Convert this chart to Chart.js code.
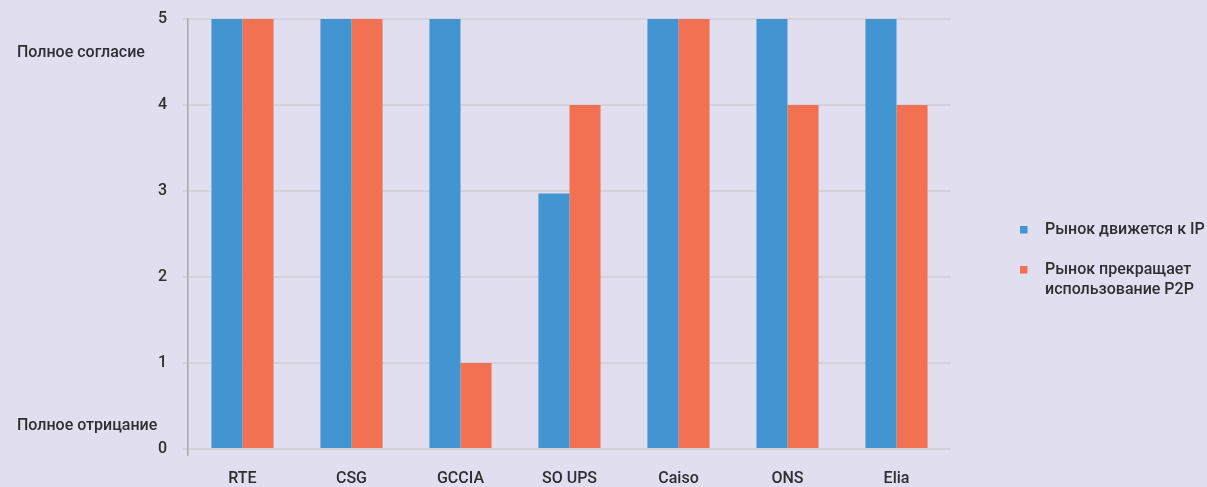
<!DOCTYPE html>
<html>
<head>
<meta charset="utf-8">
<script src="https://cdn.jsdelivr.net/npm/chart.js@4"></script>
<style>
  html, body { margin: 0; padding: 0; background: #e1dfef; }
  #wrap { width: 1207px; height: 487px; position: relative; }
</style>
</head>
<body>
<div id="wrap"><canvas id="chart" width="1207" height="487"></canvas></div>
<script>
const categories = ['RTE', 'CSG', 'GCCIA', 'SO UPS', 'Caiso', 'ONS', 'Elia'];
const marketToIp = [5, 5, 5, 2.97, 5, 5, 5];
const marketStopsP2p = [5, 5, 1, 4, 5, 4, 4];
const seriesLabels = [['Рынок движется к IP'], ['Рынок прекращает', 'использование P2P']];
const yTicks = [0, 1, 2, 3, 4, 5];
const sideNotes = [
  { text: 'Полное согласие', value: 4.6 },
  { text: 'Полное отрицание', value: 0.27 }
];

const BLUE = '#4395d1';
const ORANGE = '#f37153';
const TEXT = '#2e2e33';
const FONT = 'Roboto, "DejaVu Sans", sans-serif';

// side notes next to the y axis
const sideNotePlugin = {
  id: 'sideNotes',
  afterDraw(chart) {
    const { ctx } = chart;
    const y = chart.scales.y;
    ctx.save();
    ctx.font = '500 16px ' + FONT;
    ctx.fillStyle = TEXT;
    ctx.textAlign = 'left';
    ctx.textBaseline = 'middle';
    for (const note of sideNotes) {
      ctx.fillText(note.text, 17, y.getPixelForValue(note.value));
    }
    ctx.restore();
  }
};

// legend on the right, with wrapped labels
const sideLegendPlugin = {
  id: 'sideLegend',
  afterDraw(chart) {
    const { ctx } = chart;
    const startY = 230;
    const gap = 40;
    const lineH = 20;
    ctx.save();
    ctx.font = '500 16px ' + FONT;
    ctx.textBaseline = 'middle';
    ctx.textAlign = 'left';
    let y = startY;
    chart.data.datasets.forEach((ds, i) => {
      ctx.fillStyle = ds.backgroundColor;
      ctx.fillRect(1020, y - 4, 7.5, 7.5);
      ctx.fillStyle = TEXT;
      const lines = seriesLabels[i];
      lines.forEach((line, j) => ctx.fillText(line, 1045, y + j * lineH));
      y += gap;
    });
    ctx.restore();
  }
};

new Chart(document.getElementById('chart'), {
  type: 'bar',
  data: {
    labels: categories,
    datasets: [
      { label: seriesLabels[0].join(' '), data: marketToIp, backgroundColor: BLUE },
      { label: seriesLabels[1].join(' '), data: marketStopsP2p, backgroundColor: ORANGE }
    ]
  },
  options: {
    responsive: false,
    animation: false,
    layout: { padding: { top: 19, right: 256, left: 0, bottom: 0 } },
    datasets: { bar: { categoryPercentage: 0.57, barPercentage: 1 } },
    plugins: {
      legend: { display: false },
      tooltip: { enabled: false }
    },
    scales: {
      x: {
        afterFit(s) { s.height = 38; s.paddingLeft = 0; s.paddingRight = 0; },
        border: { display: false },
        grid: {
          drawOnChartArea: false,
          tickLength: 7,
          lineWidth: 1.5,
          color: (c) => (c.index === 0 ? '#a9a8b0' : 'rgba(0,0,0,0)')
        },
        ticks: {
          color: TEXT,
          padding: 13,
          font: { family: FONT, size: 16, weight: '500' }
        }
      },
      y: {
        min: 0,
        max: 5,
        afterFit(s) { s.width = 188; s.paddingTop = 0; s.paddingBottom = 0; },
        afterBuildTicks(s) { s.ticks = yTicks.map(v => ({ value: v })); },
        border: { display: true, color: '#a9a8b0', width: 1.5 },
        grid: {
          color: '#d4d2dd',
          lineWidth: 2,
          tickLength: 5
        },
        ticks: {
          color: TEXT,
          padding: 16,
          font: { family: FONT, size: 16, weight: '500' }
        }
      }
    }
  },
  plugins: [sideNotePlugin, sideLegendPlugin]
});
</script>
</body>
</html>
